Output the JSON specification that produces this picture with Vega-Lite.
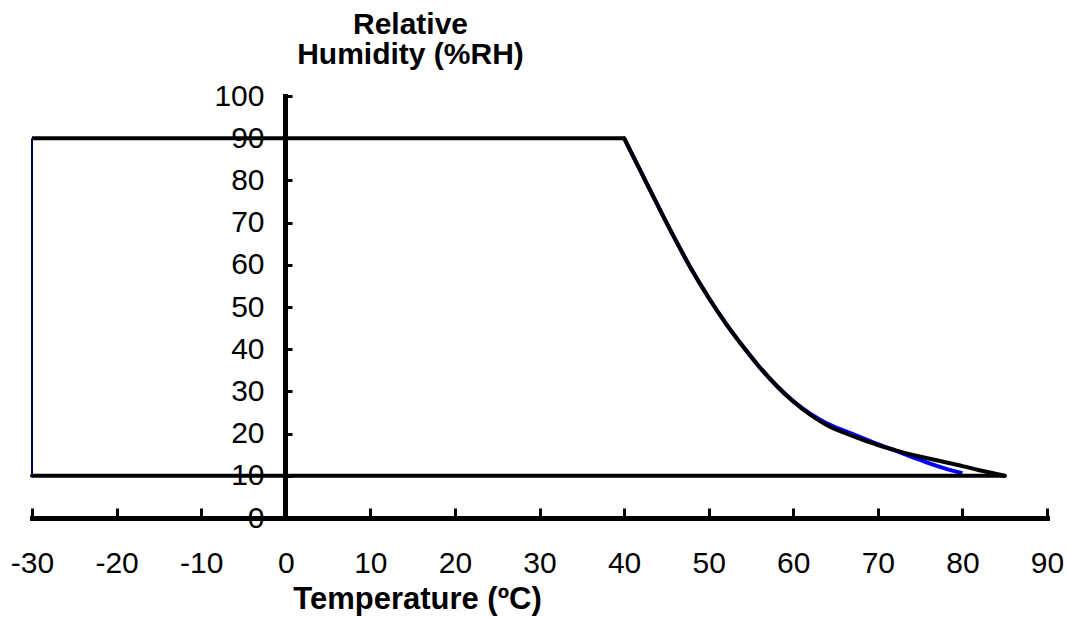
{
  "$schema": "https://vega.github.io/schema/vega-lite/v6.json",
  "autosize": "none",
  "padding": {"left": 32, "top": 96, "right": 22, "bottom": 99},
  "width": 1015,
  "height": 422,
  "background": "white",
  "config": {"view": {"stroke": null}, "font": "Liberation Sans"},
  "datasets": {
    "top": [
      {"o": 1, "t": -30, "rh": 90}, {"o": 2, "t": 40, "rh": 90}
    ],
    "curve": [
      {"o": 1, "t": 40, "rh": 90}, {"o": 2, "t": 42, "rh": 82},
      {"o": 3, "t": 44, "rh": 74}, {"o": 4, "t": 46, "rh": 66.2}, {"o": 5, "t": 48, "rh": 58.8},
      {"o": 6, "t": 50, "rh": 52.2}, {"o": 7, "t": 52, "rh": 46.2}, {"o": 8, "t": 54, "rh": 40.8},
      {"o": 9, "t": 56, "rh": 35.8}, {"o": 10, "t": 58, "rh": 31.4}, {"o": 11, "t": 60, "rh": 27.6},
      {"o": 12, "t": 62, "rh": 24.5}, {"o": 13, "t": 64, "rh": 22}, {"o": 14, "t": 66, "rh": 20.2},
      {"o": 15, "t": 68, "rh": 18.7}, {"o": 16, "t": 70, "rh": 17.3}, {"o": 17, "t": 72, "rh": 16.1},
      {"o": 18, "t": 74, "rh": 15}, {"o": 19, "t": 76, "rh": 14.1}, {"o": 20, "t": 78, "rh": 13.2},
      {"o": 21, "t": 80, "rh": 12.3}, {"o": 22, "t": 82, "rh": 11.3}, {"o": 23, "t": 85, "rh": 10}
    ],
    "bottom": [
      {"o": 1, "t": 85, "rh": 10}, {"o": 2, "t": -30, "rh": 10}
    ],
    "blue": [
      {"o": 1, "t": 40, "rh": 90}, {"o": 2, "t": 42, "rh": 82},
      {"o": 3, "t": 44, "rh": 74}, {"o": 4, "t": 46, "rh": 66.2}, {"o": 5, "t": 48, "rh": 58.8},
      {"o": 6, "t": 50, "rh": 52.2}, {"o": 7, "t": 52, "rh": 46.2}, {"o": 8, "t": 54, "rh": 40.8},
      {"o": 9, "t": 56, "rh": 35.8}, {"o": 10, "t": 58, "rh": 31.4}, {"o": 11, "t": 60, "rh": 27.7},
      {"o": 12, "t": 62, "rh": 24.7}, {"o": 13, "t": 64, "rh": 22.4}, {"o": 14, "t": 66, "rh": 20.7},
      {"o": 15, "t": 68, "rh": 19.1}, {"o": 16, "t": 70, "rh": 17.5}, {"o": 17, "t": 72, "rh": 16},
      {"o": 18, "t": 74, "rh": 14.5}, {"o": 19, "t": 76, "rh": 13}, {"o": 20, "t": 78, "rh": 11.7},
      {"o": 21, "t": 80, "rh": 10.6}
    ],
    "left": [
      {"o": 1, "t": -30, "rh": 10}, {"o": 2, "t": -30, "rh": 90}
    ]
  },
  "encoding": {
    "x": {
      "field": "t", "type": "quantitative",
      "scale": {"domain": [-30, 90], "nice": false, "zero": false},
      "axis": {
        "title": "Temperature (ºC)",
        "values": [-30, -20, -10, 0, 10, 20, 30, 40, 50, 60, 70, 80, 90],
        "labelExpr": "'' + datum.value",
        "grid": false,
        "domainColor": "black", "domainWidth": 5, "domainCap": "square",
        "tickColor": "black", "tickWidth": 3, "tickSize": -10,
        "labelFont": "Liberation Sans", "labelFontSize": 30, "labelColor": "black",
        "labelPadding": 40, "labelBaseline": "top", "labelFlush": false, "labelOverlap": false,
        "titleFont": "Liberation Sans", "titleFontSize": 31, "titleFontWeight": "bold", "titleColor": "black",
        "titleX": 385, "titleY": 90, "titleBaseline": "alphabetic", "titleAlign": "center", "titleAnchor": null
      }
    },
    "y": {
      "field": "rh", "type": "quantitative",
      "scale": {"domain": [0, 100], "nice": false, "zero": false},
      "axis": {
        "title": ["Relative", "Humidity (%RH)"],
        "offset": -253,
        "values": [0, 10, 20, 30, 40, 50, 60, 70, 80, 90, 100],
        "labelExpr": "'' + datum.value",
        "grid": false,
        "domainColor": "black", "domainWidth": 5, "domainCap": "square",
        "tickColor": "black", "tickWidth": 3, "tickSize": -7,
        "labelFont": "Liberation Sans", "labelFontSize": 30, "labelColor": "black",
        "labelPadding": 28, "labelBaseline": "middle", "labelFlush": false, "labelOverlap": false,
        "titleFont": "Liberation Sans", "titleFontSize": 30, "titleFontWeight": "bold", "titleColor": "black",
        "titleAngle": 0, "titleX": 125, "titleY": -63, "titleBaseline": "alphabetic", "titleAlign": "center",
        "titleLineHeight": 30, "titleAnchor": null
      }
    },
    "order": {"field": "o", "type": "quantitative"}
  },
  "layer": [
    {"data": {"name": "left"}, "mark": {"type": "line", "color": "#000060", "strokeWidth": 2}},
    {"data": {"name": "blue"}, "mark": {"type": "line", "color": "#0000ff", "strokeWidth": 4, "interpolate": "monotone"}},
    {"data": {"name": "top"}, "mark": {"type": "line", "color": "black", "strokeWidth": 4}},
    {"data": {"name": "bottom"}, "mark": {"type": "line", "color": "black", "strokeWidth": 4, "strokeCap": "round"}},
    {"data": {"name": "curve"}, "mark": {"type": "line", "color": "black", "strokeWidth": 4, "interpolate": "monotone", "strokeCap": "round"}}
  ]
}
